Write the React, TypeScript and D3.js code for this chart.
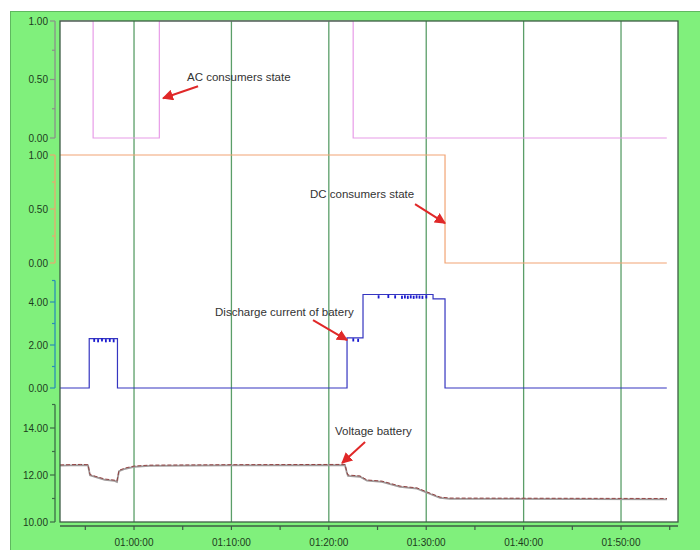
import React from 'react';
import * as d3 from 'd3';

const W = 700;
const H = 550;

// time expressed in minutes after 00:00:00
const timeDomain = [52.4, 115.85];
const gridTimes = [60, 70, 80, 90, 100, 110];
const minorTimes = [55, 65, 75, 85, 95, 105, 115];
const timeLabels = ['01:00:00', '01:10:00', '01:20:00', '01:30:00', '01:40:00', '01:50:00'];

const acTimes = [52.4, 55.8, 62.6, 82.5, 114.7];
const acValues = [1, 0, 1, 0, 0];

const dcTimes = [52.4, 91.93, 114.7];
const dcValues = [1, 0, 0];

const currentTimes = [52.4, 55.4, 58.3, 81.87, 83.51, 90.7, 91.93, 114.7];
const currentValues = [0, 2.3, 0, 2.33, 4.35, 4.15, 0, 0];

const currentNoiseTimes = [55.9, 56.3, 56.7, 57.1, 57.5, 57.9, 82.5, 83.0, 85.1, 86.1, 86.8, 87.5, 87.8, 88.1, 88.4, 88.7, 89.0, 89.3, 89.6, 90.0];
const currentNoiseValues = [2.2, 2.18, 2.22, 2.18, 2.2, 2.18, 2.22, 2.2, 4.22, 4.24, 4.22, 4.2, 4.22, 4.2, 4.22, 4.2, 4.22, 4.21, 4.2, 4.22];

const voltageTimes = [52.4, 54.5, 55.28, 55.48, 56.0, 57.0, 58.0, 58.25, 58.46, 59.1, 60.0, 61.6, 70, 81.66, 81.87, 81.97, 83.2, 83.92, 85.46, 87.31, 89.06, 90.08, 91.42, 92.44, 114.72];
const voltageValues = [12.43, 12.45, 12.44, 12.02, 11.95, 11.83, 11.78, 11.74, 12.2, 12.3, 12.38, 12.42, 12.44, 12.45, 12.1, 12.0, 11.96, 11.79, 11.74, 11.53, 11.45, 11.28, 11.06, 11.02, 11.0];

const acTicks = [0, 0.5, 1];
const dcTicks = [0, 0.5, 1];
const currentTicks = [0, 2, 4];
const voltageTicks = [10, 12, 14];

const annotationTexts = ['AC consumers state', 'DC consumers state', 'Discharge current of batery', 'Voltage battery'];
const annotationTipTimes = [62.98, 91.93, 81.87, 81.36];
const annotationTipValues = [0.34, 0.37, 2.23, 12.51];

const PLOT_L = 60;
const PLOT_R = 678;
const PLOT_T = 21;
const PLOT_B = 522;
const AXIS_X = 55;
const FONT = '"Liberation Sans", Arial, sans-serif';
const LABEL_COLOR = '#1d3b1d';

export default function App() {
  const x = d3.scaleLinear().domain(timeDomain).range([PLOT_L, PLOT_R]);

  const panels = [
    { key: 'ac', y: d3.scaleLinear().domain([0, 1]).range([138, 21]), ticks: acTicks, minor: [0.25, 0.75], color: '#8a8f8a', stroke: '#e89ce8' },
    { key: 'dc', y: d3.scaleLinear().domain([0, 1]).range([263, 155]), ticks: dcTicks, minor: [0.25, 0.75], color: '#e8a870', stroke: '#f2a474' },
    { key: 'cur', y: d3.scaleLinear().domain([0, 5]).range([388, 280.5]), ticks: currentTicks, minor: [1, 3, 5], color: '#2a8fb5', stroke: '#3535c0' },
    { key: 'volt', y: d3.scaleLinear().domain([10, 15]).range([522, 404.5]), ticks: voltageTicks, minor: [11, 13, 15], color: '#3b6b45', stroke: '#8c3030' },
  ];

  const stepLine = (yS: any) =>
    d3.line<[number, number]>().x(d => x(d[0])).y(d => yS(d[1])).curve(d3.curveStepAfter);
  const linLine = (yS: any) =>
    d3.line<[number, number]>().x(d => x(d[0])).y(d => yS(d[1]));

  const ac = panels[0], dc = panels[1], cur = panels[2], volt = panels[3];
  const zip = (a: number[], b: number[]) => a.map((t, i) => [t, b[i]] as [number, number]);

  const annotationOffsets = [
    { tx: 24, ty: -17, lx: 35, ly: -12 },
    { tx: -135, ty: -25, lx: -30, ly: -19 },
    { tx: -132, ty: -24, lx: -34, ly: -20 },
    { tx: -7, ty: -28, lx: 23, ly: -21 },
  ];
  const annYScales = [ac.y, dc.y, cur.y, volt.y];

  return (
    <svg width={W} height={H} style={{ position: 'absolute', left: 0, top: 0, fontFamily: FONT }}>
      <defs>
        <marker id="arr" viewBox="0 0 10 10" refX="9" refY="5" markerWidth="5.5" markerHeight="5.5" orient="auto">
          <path d="M0,0 L10,5 L0,10 Z" fill="#e02828" />
        </marker>
      </defs>
      <rect x={0} y={0} width={W} height={H} fill="#ffffff" />
      <rect x={10.5} y={11.5} width={W - 10} height={H - 11} fill="#80f07c" stroke="#5fb85f" strokeWidth={1} />
      <rect x={PLOT_L} y={PLOT_T} width={PLOT_R - PLOT_L} height={PLOT_B - PLOT_T} fill="#ffffff" />

      {/* vertical grid */}
      {gridTimes.map(t => (
        <line key={'g' + t} x1={x(t)} x2={x(t)} y1={PLOT_T} y2={PLOT_B} stroke="#5a9e68" strokeWidth={1.3} />
      ))}

      {/* series */}
      <path d={stepLine(ac.y)(zip(acTimes, acValues)) || ''} fill="none" stroke={ac.stroke} strokeWidth={1.2} />
      <path d={stepLine(dc.y)(zip(dcTimes, dcValues)) || ''} fill="none" stroke={dc.stroke} strokeWidth={1.2} />
      <path d={stepLine(cur.y)(zip(currentTimes, currentValues)) || ''} fill="none" stroke={cur.stroke} strokeWidth={1.2} />
      {currentNoiseTimes.map((t, i) => (
        <rect key={'n' + i} x={x(t) - 0.8} y={cur.y(currentNoiseValues[i]) - 2} width={1.8} height={3.2} fill="#1a1ad0" />
      ))}
      <path d={linLine(volt.y)(zip(voltageTimes, voltageValues)) || ''} fill="none" stroke="#a09a9a" strokeWidth={1.8} transform="translate(0,0.8)" />
      <path d={linLine(volt.y)(zip(voltageTimes, voltageValues)) || ''} fill="none" stroke={volt.stroke} strokeWidth={1} strokeDasharray="4,2" opacity={0.85} />

      {/* plot frame */}
      <rect x={PLOT_L} y={PLOT_T} width={PLOT_R - PLOT_L} height={PLOT_B - PLOT_T} fill="none" stroke="#3d5c44" strokeWidth={1.3} />

      {/* y axes */}
      {panels.map(p => {
        const [y0, y1] = p.y.range();
        return (
          <g key={'ax' + p.key}>
            <line x1={AXIS_X} x2={AXIS_X} y1={y0} y2={y1} stroke={p.color} strokeWidth={1.3} />
            {p.ticks.map(v => (
              <g key={'t' + v}>
                <line x1={AXIS_X - 5} x2={AXIS_X} y1={p.y(v)} y2={p.y(v)} stroke={p.color} strokeWidth={1.2} />
                <text x={AXIS_X - 7} y={p.y(v)} dy="0.35em" textAnchor="end" fontSize={10} fill={LABEL_COLOR}>
                  {d3.format('.2f')(v)}
                </text>
              </g>
            ))}
            {p.minor.map(v => (
              <line key={'m' + v} x1={AXIS_X - 3} x2={AXIS_X} y1={p.y(v)} y2={p.y(v)} stroke={p.color} strokeWidth={1.2} />
            ))}
          </g>
        );
      })}

      {/* x axis */}
      <line x1={PLOT_L} x2={PLOT_R} y1={526} y2={526} stroke="#3d5c44" strokeWidth={1.3} />
      {gridTimes.concat(minorTimes).map(t => (
        <line key={'xt' + t} x1={x(t)} x2={x(t)} y1={526} y2={530} stroke="#3d5c44" strokeWidth={1.2} />
      ))}
      {gridTimes.map((t, i) => (
        <text key={'xl' + t} x={x(t)} y={546} textAnchor="middle" fontSize={10} fill={LABEL_COLOR}>
          {timeLabels[i]}
        </text>
      ))}

      {/* annotations */}
      {annotationTexts.map((txt, i) => {
        const tipX = x(annotationTipTimes[i]);
        const tipY = annYScales[i](annotationTipValues[i]);
        const o = annotationOffsets[i];
        return (
          <g key={'a' + i}>
            <line x1={tipX + o.lx} y1={tipY + o.ly} x2={tipX} y2={tipY} stroke="#e02828" strokeWidth={2} markerEnd="url(#arr)" />
            <text x={tipX + o.tx} y={tipY + o.ty} fontSize={11.5} fill="#333333">{txt}</text>
          </g>
        );
      })}
    </svg>
  );
}
